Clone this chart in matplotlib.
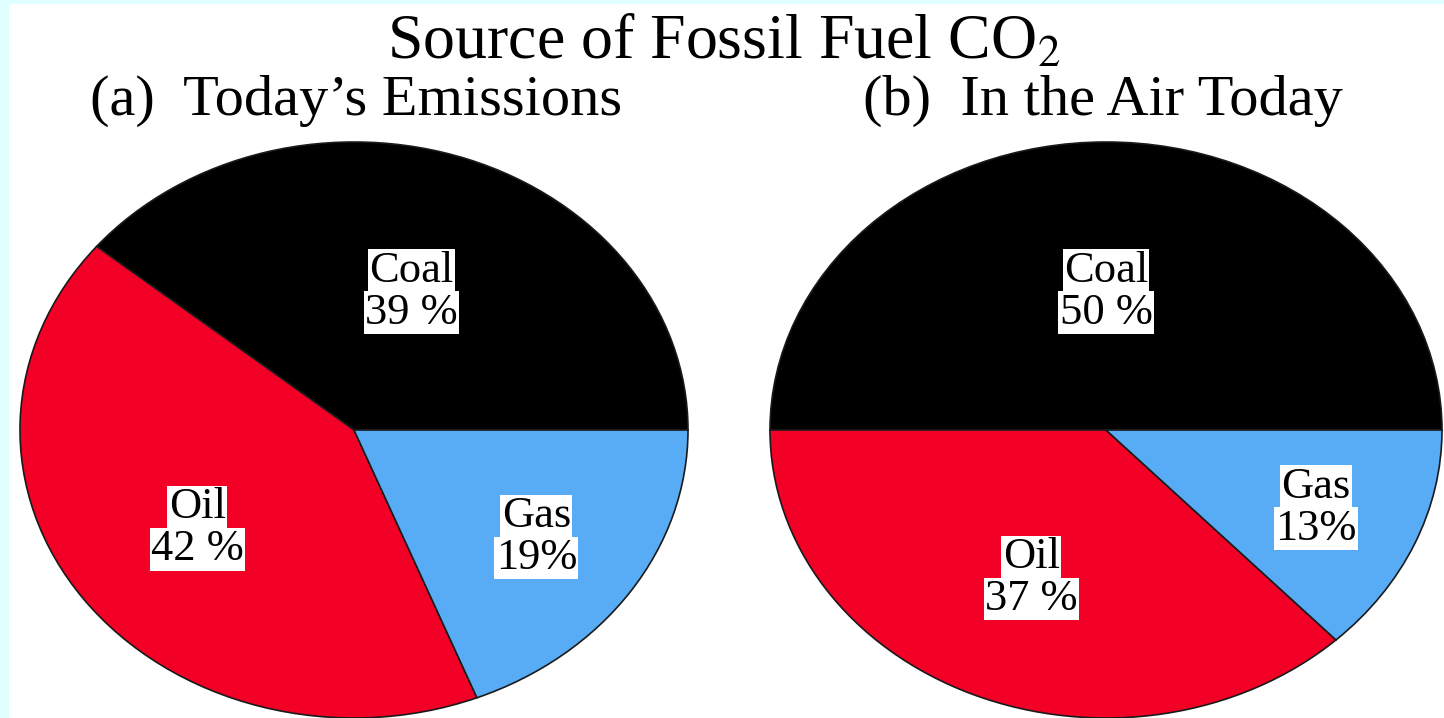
import numpy as np
import matplotlib.pyplot as plt

# data
fuels = ["Coal", "Oil", "Gas"]
today_pct = [39, 42, 19]
today_txt = ["39 %", "42 %", "19%"]
air_pct = [50, 37, 13]
air_txt = ["50 %", "37 %", "13%"]
colors = ["#000000", "#F20026", "#58ACF5"]

W, H = 1444, 718
fig = plt.figure(figsize=(W / 100, H / 100), dpi=100)
fig.patch.set_facecolor("#E0FFFF")
plt.rcParams["font.family"] = ["Liberation Serif", "DejaVu Serif"]
plt.rcParams["mathtext.fontset"] = "stix"

# white panel
bg = fig.add_axes([9 / W, 0, 1 - 9 / W, 1 - 4 / H])
bg.set_facecolor("white")
bg.set_axis_off()
bg.add_patch(plt.Rectangle((0, 0), 1, 1, color="white", transform=bg.transAxes))


def draw_pie(box, sizes, pct_txt, radii):
    ax = fig.add_axes(box)
    wedges, _ = ax.pie(sizes, colors=colors, startangle=0, counterclock=True,
                       wedgeprops=dict(edgecolor="#1a1a1a", linewidth=1.2))
    ax.set_aspect("auto")
    ax.set_xlim(-1, 1)
    ax.set_ylim(-1, 1)
    ax.set_axis_off()
    for w in wedges:
        w.set_clip_on(False)
    for w, name, pt, r in zip(wedges, fuels, pct_txt, radii):
        mid = np.deg2rad((w.theta1 + w.theta2) / 2)
        x, y = r * np.cos(mid), r * np.sin(mid)
        box_kw = dict(facecolor="white", edgecolor="none", pad=1.0)
        ax.annotate(name, (x, y), xytext=(0, 21), textcoords="offset pixels",
                    ha="center", va="center", fontsize=32, bbox=box_kw)
        ax.annotate(pt, (x, y), xytext=(0, -21), textcoords="offset pixels",
                    ha="center", va="center", fontsize=32, bbox=box_kw)
    return ax


draw_pie([20 / W, 0, 668 / W, 576 / H], today_pct, today_txt, [0.51, 0.58, 0.66])
draw_pie([770 / W, 0, 672 / W, 576 / H], air_pct, air_txt, [0.48, 0.56, 0.68])

fig.text(724 / W, 1 - 44 / H, r"Source of Fossil Fuel CO$_2$", ha="center",
         va="center", fontsize=46)
fig.text(356 / W, 1 - 101 / H, "(a)  Today\u2019s Emissions", ha="center",
         va="center", fontsize=42)
fig.text(1103 / W, 1 - 101 / H, "(b)  In the Air Today", ha="center",
         va="center", fontsize=42)

fig.savefig("out.png", dpi=100, facecolor=fig.get_facecolor())
